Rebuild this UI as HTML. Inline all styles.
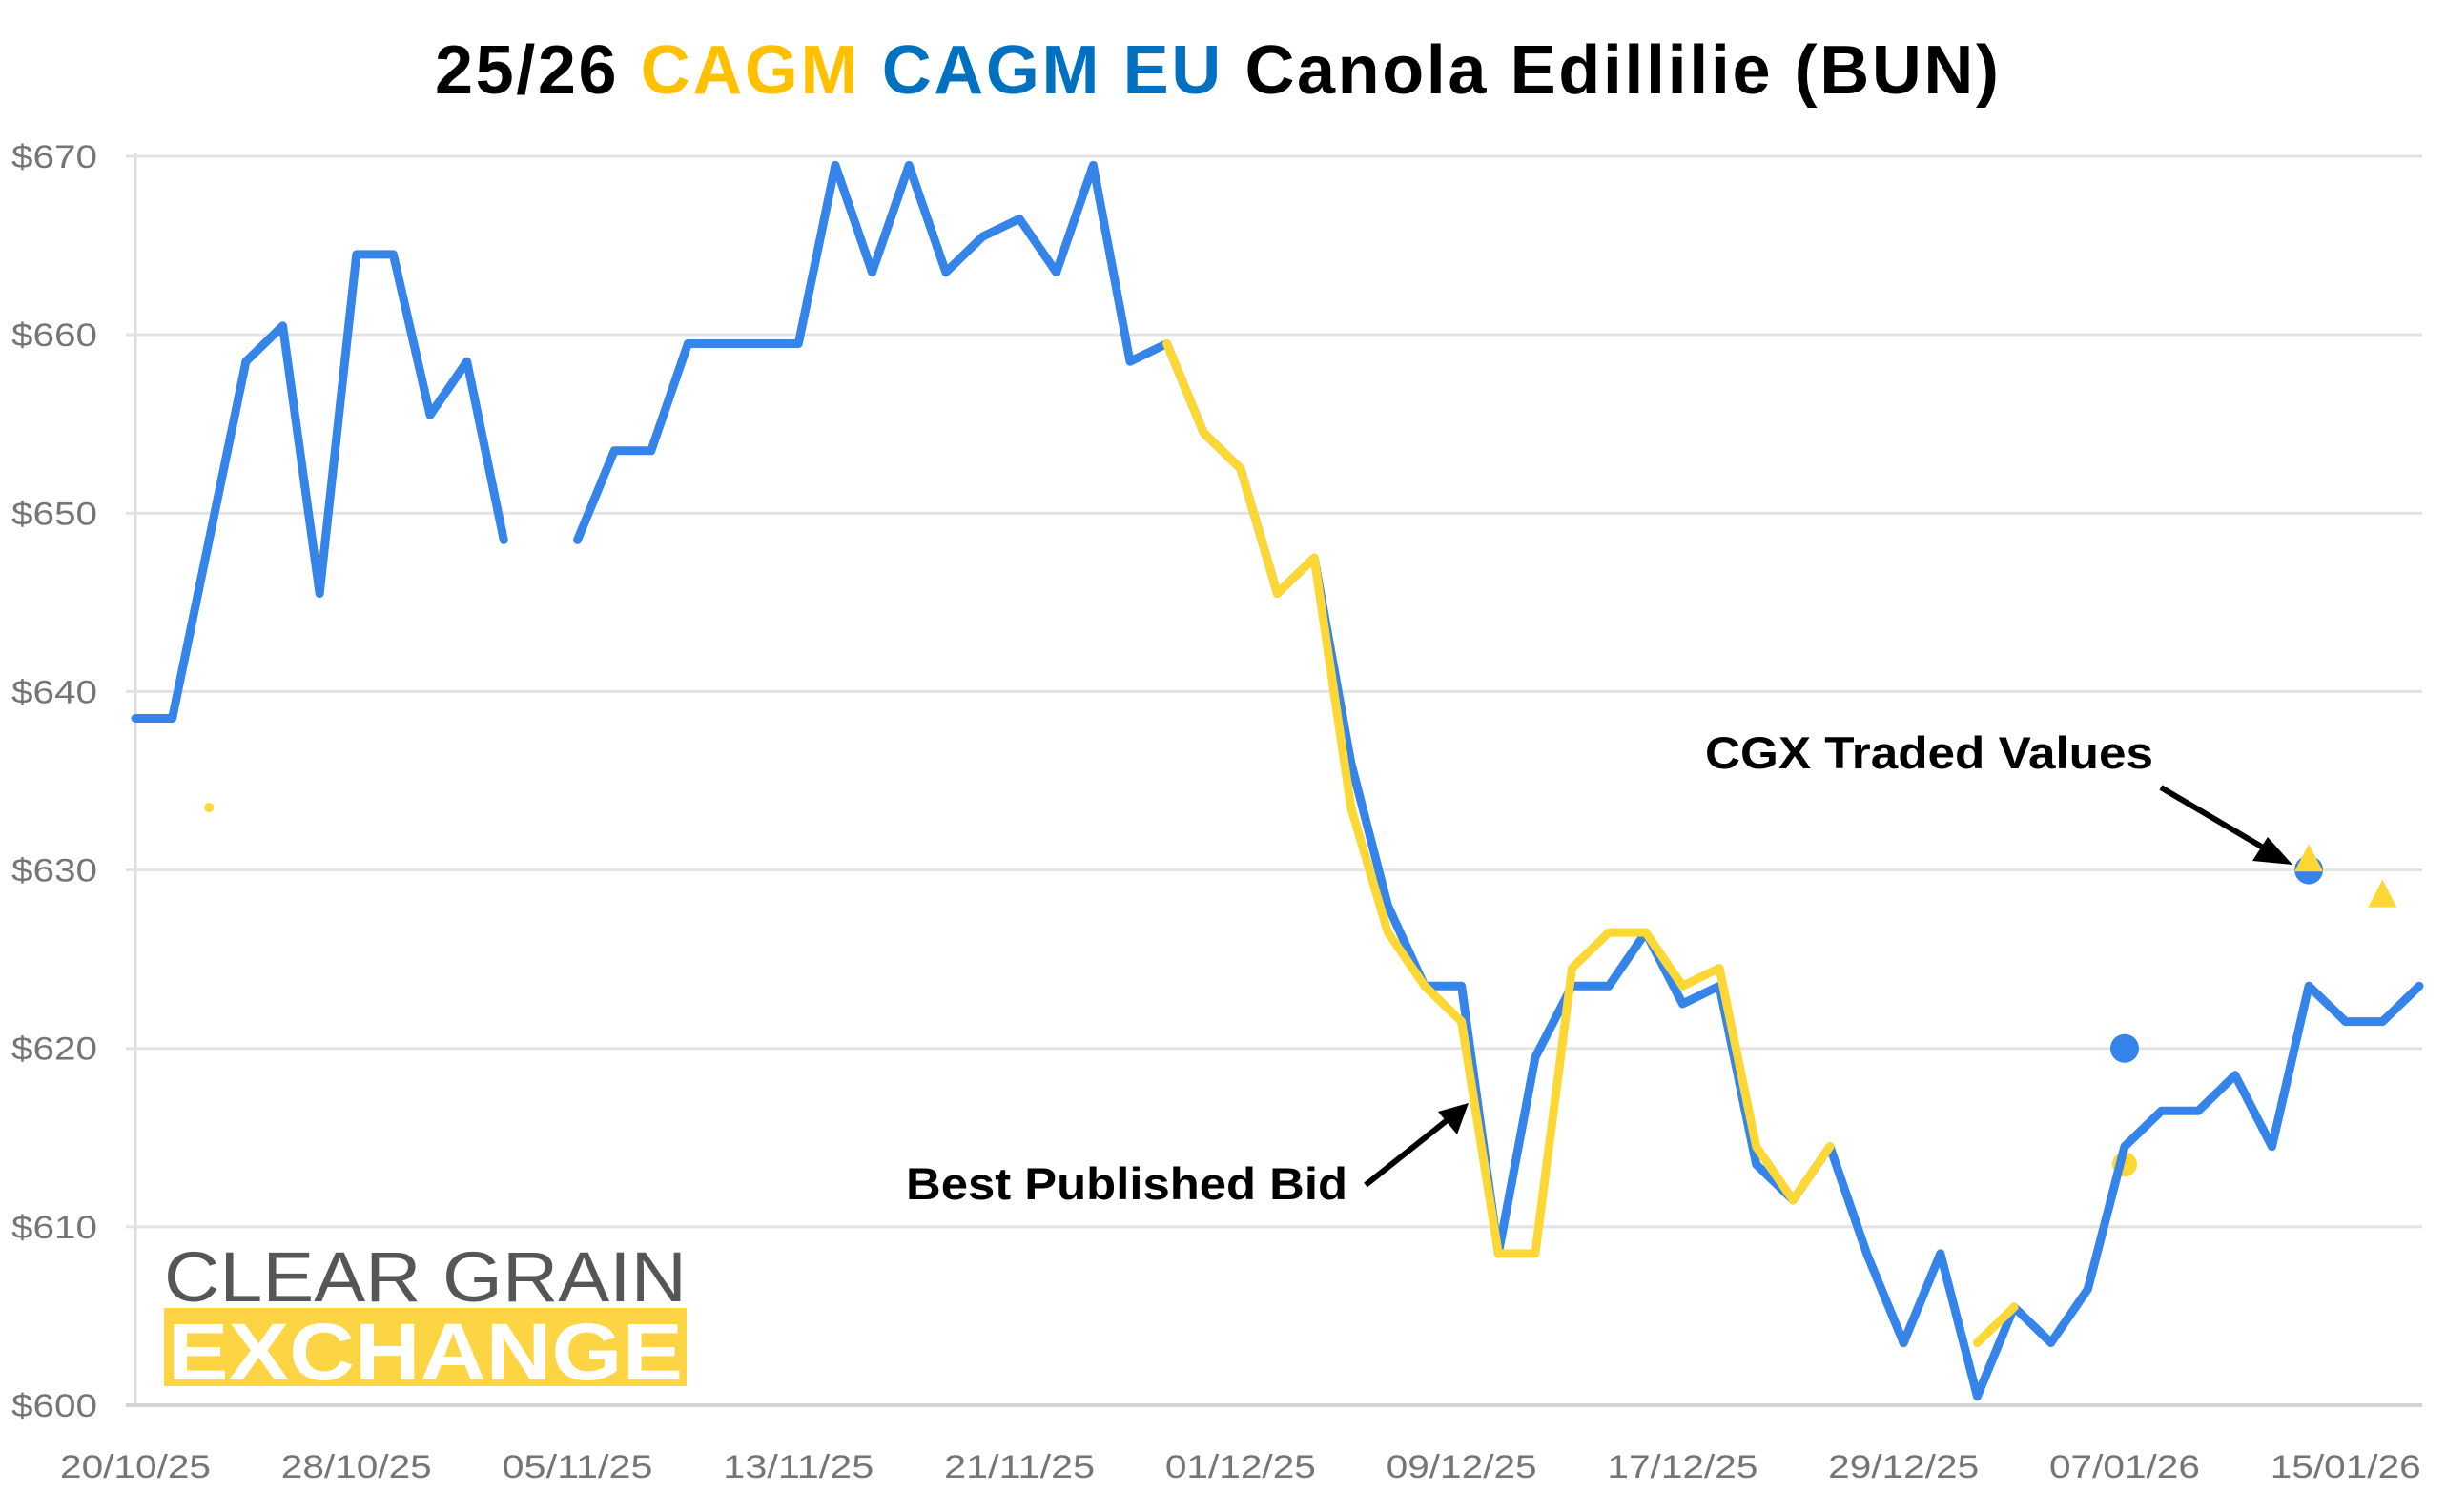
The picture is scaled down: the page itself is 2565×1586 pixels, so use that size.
<!DOCTYPE html>
<html><head><meta charset="utf-8"><style>
html,body{margin:0;padding:0;background:#fff;}
svg{display:block;font-family:"Liberation Sans",Arial,sans-serif;}
</style></head><body>
<svg id="chart" width="2565" height="1586" viewBox="0 0 2565 1586" xmlns="http://www.w3.org/2000/svg">
<text x="1276" y="98" text-anchor="middle" font-size="72" font-weight="bold" fill="#000" textLength="1640" lengthAdjust="spacing"><tspan>25/26 </tspan><tspan fill="#FFC000">CAGM </tspan><tspan fill="#0070C0">CAGM EU</tspan><tspan> Canola Edillilie (BUN)</tspan></text>
<g id="grid"></g>
<g id="yaxis"></g>
<g id="xaxis"></g>
<g id="logo">
<text x="172" y="1365" font-size="74" fill="#555756" textLength="548" lengthAdjust="spacingAndGlyphs">CLEAR GRAIN</text>
<rect x="172" y="1372" width="548" height="82" fill="#FDD443"/>
<text x="176" y="1447" font-size="84" font-weight="bold" fill="#fff" textLength="540" lengthAdjust="spacingAndGlyphs">EXCHANGE</text>
</g>
<g id="series"></g>
<g>
<text x="1788" y="806" font-size="47" font-weight="bold" fill="#000" textLength="470" lengthAdjust="spacingAndGlyphs">CGX Traded Values</text>
<line x1="2266" y1="826" x2="2380" y2="893" stroke="#000" stroke-width="6"/>
<polygon points="2404,907 2362,903 2378,878" fill="#000"/>
</g>
<g>
<text x="950" y="1258" font-size="47" font-weight="bold" fill="#000" textLength="463" lengthAdjust="spacingAndGlyphs">Best Published Bid</text>
<line x1="1432" y1="1243" x2="1520" y2="1173" stroke="#000" stroke-width="6"/>
<polygon points="1540,1157 1528,1190 1508,1166" fill="#000"/>
</g>
</svg>
<script>
const xLabels=["20/10/25","28/10/25","05/11/25","13/11/25","21/11/25","01/12/25","09/12/25","17/12/25","29/12/25","07/01/26","15/01/26"];
const yTicks=[600,610,620,630,640,650,660,670];
const blueSeries=[638.5,638.5,648.5,658.5,660.5,645.5,664.5,664.5,655.5,658.5,648.5,null,648.5,653.5,653.5,659.5,659.5,659.5,659.5,669.5,663.5,669.5,663.5,665.5,666.5,663.5,669.5,658.5,659.5,654.5,652.5,645.5,647.5,636,628,623.5,623.5,608.5,619.5,623.5,623.5,626.5,622.5,623.5,613.5,611.5,614.5,608.5,603.5,608.5,600.5,605.5,603.5,606.5,614.5,616.5,616.5,618.5,614.5,623.5,621.5,621.5,623.5];
const yellowSeries=[null,null,633.5,null,null,null,null,null,null,null,null,null,null,null,null,null,null,null,null,null,null,null,null,null,null,null,null,null,659.5,654.5,652.5,645.5,647.5,633.5,626.5,623.5,621.5,608.5,608.5,624.5,626.5,626.5,623.5,624.5,614.5,611.5,614.5,null,603.5,null,603.5,605.5,null,null,613.5,null,null,null,null,null,null,null,null];
const blueTradeIdx=[54,59];
const blueTradeVal=[620,630];
const yellowTradeIdx=[59,61];
const yellowTradeVal=[630.5,628.5];
const NS="http://www.w3.org/2000/svg";
const X0=142,X1=2537,Y0=1474,Y1=164,N=blueSeries.length;
const xs=i=>X0+(X1-X0)*i/(N-1);
const ys=v=>Y0-(v-600)/(670-600)*(Y0-Y1);
function mk(t,a,p){const e=document.createElementNS(NS,t);for(const k in a)e.setAttribute(k,a[k]);p.appendChild(e);return e;}
const grid=document.getElementById('grid'),ya=document.getElementById('yaxis'),xa=document.getElementById('xaxis'),ser=document.getElementById('series');
mk('line',{x1:X0,y1:Y1-4,x2:X0,y2:Y0,stroke:'#dcdcdc','stroke-width':3},grid);
yTicks.forEach(v=>{
 const l=mk('line',{x1:X0-10,y1:ys(v),x2:2540,y2:ys(v),stroke:v===600?'#d4d4d4':'#e3e3e3','stroke-width':v===600?4:3},grid);
 
 
 const t=mk('text',{x:12,y:ys(v)+12,'font-size':34,fill:'#757575',textLength:90,lengthAdjust:'spacingAndGlyphs'},ya);t.textContent='$'+v;
 
 
});
xLabels.forEach((s,k)=>{
 const t=mk('text',{x:xs(k*6),y:1550,'font-size':34,fill:'#757575','text-anchor':'middle',textLength:158,lengthAdjust:'spacingAndGlyphs'},xa);t.textContent=s;
 
 
});
function segs(arr){const out=[];let cur=[];arr.forEach((v,i)=>{if(v==null){if(cur.length)out.push(cur);cur=[];}else cur.push([xs(i),ys(v)]);});if(cur.length)out.push(cur);return out;}
segs(yellowSeries).forEach(s=>{if(s.length===1){const big=s[0][0]>xs(53);const c=mk('circle',{cx:s[0][0],cy:s[0][1],r:big?13:5,fill:'#FDD835'},ser);
 
 }});
segs(blueSeries).forEach(s=>{const p=mk('polyline',{points:s.map(q=>q.join(',')).join(' '),fill:'none',stroke:'#3584EA','stroke-width':9,'stroke-linejoin':'round','stroke-linecap':'round'},ser);
 
 });
segs(yellowSeries).forEach(s=>{if(s.length>1){const p=mk('polyline',{points:s.map(q=>q.join(',')).join(' '),fill:'none',stroke:'#FDD835','stroke-width':9,'stroke-linejoin':'round','stroke-linecap':'round'},ser);
 
 }});
blueTradeIdx.forEach((i,k)=>{const c=mk('circle',{cx:xs(i),cy:ys(blueTradeVal[k]),r:15,fill:'#3584EA'},ser);
 
 });
yellowTradeIdx.forEach((i,k)=>{const x=xs(i),y=ys(yellowTradeVal[k]);const p=mk('polygon',{points:`${x},${y-18} ${x-15},${y+11} ${x+15},${y+11}`,fill:'#FDD835'},ser);
 
 });
</script>
</body></html>
